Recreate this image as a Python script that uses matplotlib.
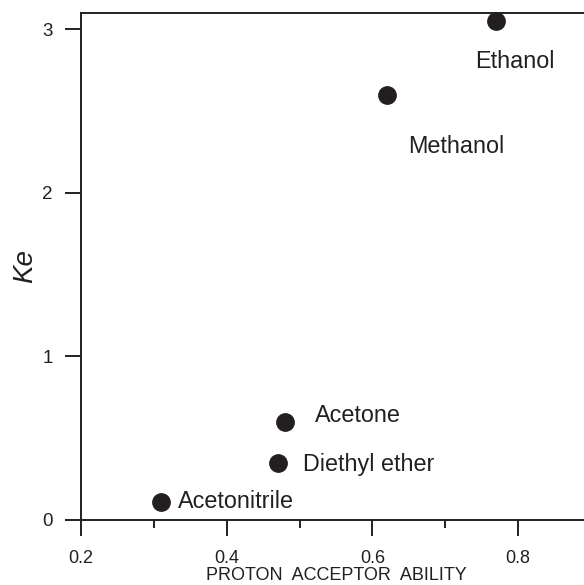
import matplotlib
matplotlib.use("Agg")
import matplotlib.pyplot as plt
from matplotlib.ticker import FixedLocator

plt.rcParams['font.family'] = ['Liberation Sans', 'DejaVu Sans']

solvents = ["Ethanol", "Methanol", "Acetone", "Diethyl ether", "Acetonitrile"]
acceptor_ability = [0.77, 0.62, 0.48, 0.47, 0.31]
ke_values = [3.05, 2.60, 0.60, 0.35, 0.11]
# label placement relative to each point, in pixels (dx, dy)
label_offsets = [(-21, -47), (21, -58), (30, 0), (25, -8), (17, -6)]

x_major = [0.2, 0.4, 0.6, 0.8]
x_minor = [0.3, 0.5, 0.7]
y_major = [0, 1, 2, 3]

ink = "#231f20"

fig = plt.figure(figsize=(5.84, 5.85), dpi=100)
ax = fig.add_axes([81 / 584, 65 / 585, (584 - 81) / 584 + 0.012, (520 - 13) / 585])

ax.scatter(acceptor_ability, ke_values, s=12.5 ** 2, color=ink, zorder=3, clip_on=False)

for name, x, y, (dx, dy) in zip(solvents, acceptor_ability, ke_values, label_offsets):
    ax.annotate(name, (x, y), xytext=(dx, dy), textcoords="offset pixels",
                ha="left", va="baseline", fontsize=16.8, color=ink)

ax.set_xlim(0.2, 0.9)
ax.set_ylim(0, 3.1)

ax.xaxis.set_major_locator(FixedLocator(x_major))
ax.xaxis.set_minor_locator(FixedLocator(x_minor))
ax.yaxis.set_major_locator(FixedLocator(y_major))
ax.set_xticklabels([f"{v:.1f}" for v in x_major])
ax.set_yticklabels([str(v) for v in y_major])

ax.spines["right"].set_visible(False)
for side in ("left", "bottom", "top"):
    ax.spines[side].set_linewidth(1.4)
    ax.spines[side].set_color(ink)

ax.tick_params(axis="x", which="major", direction="out", length=11.5, width=1.4,
               pad=10, labelsize=13, colors=ink)
ax.tick_params(axis="x", which="minor", direction="out", length=6, width=1.4, colors=ink)
ax.tick_params(axis="y", which="major", direction="out", length=11.5, width=1.4,
               pad=9, labelsize=13.5, colors=ink)

ax.set_xlabel("PROTON  ACCEPTOR  ABILITY", fontsize=13, color=ink, labelpad=0)
ax.set_ylabel("Ke", fontsize=20, fontstyle="italic", color=ink, labelpad=3)

fig.savefig("out.png", dpi=100)
